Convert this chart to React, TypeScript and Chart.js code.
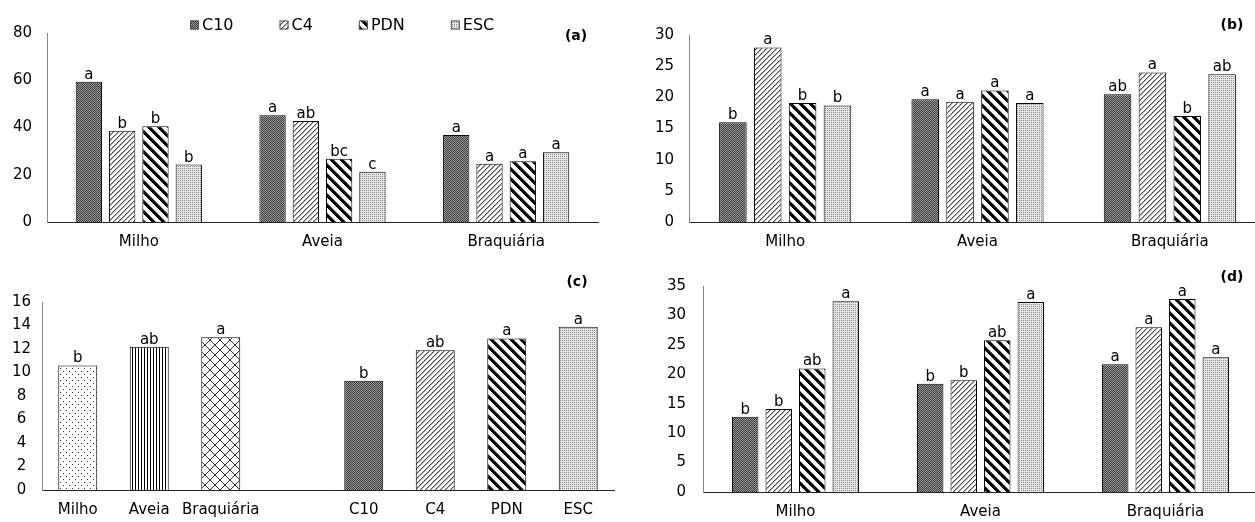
import React, { useEffect, useRef } from 'react';
import { Chart, registerables } from 'chart.js';
Chart.register(...registerables);

// ---------- data ----------
const crops = ['Milho', 'Aveia', 'Braquiária'];
const systems = ['C10', 'C4', 'PDN', 'ESC'];

// panel (a)
const aC10 = [59.4, 45.2, 36.8];
const aC4 = [38.6, 42.7, 24.7];
const aPDN = [40.5, 26.8, 25.7];
const aESC = [24.3, 21.3, 29.5];
const aLetters = [['a', 'a', 'a'], ['b', 'ab', 'a'], ['b', 'bc', 'a'], ['b', 'c', 'a']];
const aTicks = { max: 80, step: 20 };

// panel (b)
const bC10 = [16.0, 19.7, 20.5];
const bC4 = [28.0, 19.3, 24.0];
const bPDN = [19.1, 21.1, 17.0];
const bESC = [18.7, 19.1, 23.7];
const bLetters = [['b', 'a', 'ab'], ['a', 'a', 'a'], ['b', 'a', 'b'], ['b', 'a', 'ab']];
const bTicks = { max: 30, step: 5 };

// panel (c)
const cCats = ['Milho', 'Aveia', 'Braquiária', '', 'C10', 'C4', 'PDN', 'ESC'];
const cValues = [10.6, 12.2, 13.0, null, 9.3, 11.9, 12.9, 13.9];
const cLetters = ['b', 'ab', 'a', '', 'b', 'ab', 'a', 'a'];
const cPatterns = ['dots', 'vlines', 'diamond', 'none', 'C10', 'C4', 'PDN', 'ESC'];
const cTicks = { max: 16, step: 2 };

// panel (d)
const dC10 = [12.8, 18.4, 21.7];
const dC4 = [14.1, 19.0, 28.0];
const dPDN = [21.0, 25.8, 32.8];
const dESC = [32.4, 32.3, 22.9];
const dLetters = [['b', 'b', 'a'], ['b', 'b', 'a'], ['ab', 'ab', 'a'], ['a', 'a', 'a']];
const dTicks = { max: 35, step: 5 };

const FONT = '"DejaVu Sans", sans-serif';

// ---------- patterns ----------
function tile(w: number, h: number, draw: (g: CanvasRenderingContext2D) => void) {
  const c = document.createElement('canvas');
  c.width = w;
  c.height = h;
  const g = c.getContext('2d')!;
  draw(g);
  return g.createPattern(c, 'repeat')!;
}
function px(g: CanvasRenderingContext2D, x: number, y: number, col: string) {
  g.fillStyle = col;
  g.fillRect(x, y, 1, 1);
}
function makePattern(kind: string): any {
  switch (kind) {
    case 'C10':
      return tile(2, 2, (g) => {
        g.fillStyle = '#9a9a9a';
        g.fillRect(0, 0, 2, 2);
        px(g, 0, 0, '#3a3a3a');
        px(g, 1, 1, '#3a3a3a');
      });
    case 'C4':
      return tile(5, 5, (g) => {
        g.fillStyle = '#ffffff';
        g.fillRect(0, 0, 5, 5);
        for (let i = 0; i < 5; i++) {
          px(g, i, 4 - i, '#4a4a4a');
          px(g, (i + 1) % 5, 4 - i, '#b0b0b0');
        }
      });
    case 'PDN':
      return tile(10, 10, (g) => {
        g.fillStyle = '#ffffff';
        g.fillRect(0, 0, 10, 10);
        for (let x = 0; x < 10; x++)
          for (let y = 0; y < 10; y++) {
            const d = (x - y + 20) % 10;
            if (d < 4) px(g, x, y, '#000000');
            else if (d === 4) px(g, x, y, '#808080');
          }
      });
    case 'ESC':
      return tile(2, 2, (g) => {
        g.fillStyle = '#e6e6e6';
        g.fillRect(0, 0, 2, 2);
        px(g, 0, 0, '#8a8a8a');
      });
    case 'dots':
      return tile(6, 6, (g) => {
        g.fillStyle = '#ffffff';
        g.fillRect(0, 0, 6, 6);
        px(g, 0, 0, '#333333');
        px(g, 3, 3, '#333333');
      });
    case 'vlines':
      return tile(3, 1, (g) => {
        g.fillStyle = '#ffffff';
        g.fillRect(0, 0, 3, 1);
        px(g, 0, 0, '#000000');
      });
    case 'diamond':
      return tile(10, 10, (g) => {
        g.fillStyle = '#ffffff';
        g.fillRect(0, 0, 10, 10);
        for (let i = 0; i < 10; i++) {
          px(g, i, i, '#333333');
          px(g, i, 9 - i, '#333333');
        }
      });
    default:
      return '#ffffff';
  }
}

// ---------- plugins ----------
function lettersPlugin(letters: string[][]) {
  return {
    id: 'letters',
    afterDatasetsDraw(chart: any) {
      const ctx = chart.ctx;
      ctx.save();
      ctx.font = `15px ${FONT}`;
      ctx.fillStyle = '#000';
      ctx.textAlign = 'center';
      ctx.textBaseline = 'alphabetic';
      chart.data.datasets.forEach((ds: any, di: number) => {
        const meta = chart.getDatasetMeta(di);
        meta.data.forEach((el: any, i: number) => {
          const t = letters[di] && letters[di][i];
          if (t && ds.data[i] != null) ctx.fillText(t, el.x, el.y - 3);
        });
      });
      ctx.restore();
    },
  };
}
function tagPlugin(text: string, x: number, y: number) {
  return {
    id: 'tag',
    afterDraw(chart: any) {
      const ctx = chart.ctx;
      ctx.save();
      ctx.font = `bold 14px ${FONT}`;
      ctx.fillStyle = '#000';
      ctx.textAlign = 'center';
      ctx.textBaseline = 'middle';
      ctx.fillText(text, x, y);
      ctx.restore();
    },
  };
}
function legendPlugin(startX: number, y: number, gap: number) {
  return {
    id: 'customLegend',
    afterDraw(chart: any) {
      const ctx = chart.ctx;
      ctx.save();
      ctx.font = `16px ${FONT}`;
      ctx.textBaseline = 'middle';
      ctx.textAlign = 'left';
      let x = startX;
      chart.data.datasets.forEach((ds: any) => {
        ctx.fillStyle = ds.backgroundColor;
        ctx.fillRect(x, y - 4.5, 9, 9);
        ctx.strokeStyle = '#555';
        ctx.lineWidth = 1;
        ctx.strokeRect(x + 0.5, y - 4, 8, 8);
        ctx.fillStyle = '#000';
        ctx.fillText(ds.label, x + 12, y + 1);
        x += 12 + ctx.measureText(ds.label).width + gap;
      });
      ctx.restore();
    },
  };
}

// ---------- chart builder ----------
type Box = { yW: number; xH: number; padR: number; padT: number; tickPad: number; crossAlign?: string };

function baseOptions(box: Box, ticks: { max: number; step: number }, catPct: number, barPct: number): any {
  return {
    responsive: false,
    animation: false,
    devicePixelRatio: 1,
    layout: { padding: { left: 0, right: box.padR, top: box.padT, bottom: 0 } },
    plugins: { legend: { display: false }, tooltip: { enabled: false } },
    datasets: { bar: { categoryPercentage: catPct, barPercentage: barPct } },
    scales: {
      x: {
        grid: { display: false, drawTicks: false },
        border: { display: true, color: '#262626', width: 1 },
        ticks: { font: { family: FONT, size: 15 }, color: '#000', padding: 11, maxRotation: 0, autoSkip: false },
        afterFit: (s: any) => {
          s.height = box.xH;
        },
      },
      y: {
        min: 0,
        max: ticks.max,
        grid: { display: false, drawTicks: false },
        border: { display: true, color: '#868686', width: 1 },
        ticks: {
          stepSize: ticks.step,
          font: { family: FONT, size: 15 },
          color: '#000',
          padding: box.tickPad,
          crossAlign: box.crossAlign || 'near',
        },
        afterFit: (s: any) => {
          s.width = box.yW;
        },
      },
    },
  };
}

function groupedConfig(series: number[][], letters: string[][], box: Box, ticks: any, extra: any[]): any {
  return {
    type: 'bar',
    data: {
      labels: crops,
      datasets: systems.map((s, i) => ({
        label: s,
        data: series[i],
        backgroundColor: makePattern(s),
        borderColor: '#000',
        borderWidth: 1,
      })),
    },
    options: baseOptions(box, ticks, 0.725, 0.79),
    plugins: [lettersPlugin(letters), ...extra],
  };
}

function ChartCanvas(props: { left: number; top: number; width: number; height: number; build: () => any }) {
  const ref = useRef<HTMLCanvasElement>(null);
  useEffect(() => {
    const chart = new Chart(ref.current!, props.build());
    return () => chart.destroy();
  }, []);
  return (
    <canvas
      ref={ref}
      width={props.width}
      height={props.height}
      style={{ position: 'absolute', left: props.left, top: props.top, width: props.width, height: props.height }}
    />
  );
}

export default function App() {
  return (
    <div
      style={{
        position: 'absolute',
        left: 0,
        top: 0,
        width: 1255,
        height: 522,
        overflow: 'hidden',
        background: '#fff',
      }}
    >
      <ChartCanvas
        left={0}
        top={0}
        width={615}
        height={260}
        build={() =>
          groupedConfig(
            [aC10, aC4, aPDN, aESC],
            aLetters,
            { yW: 47, xH: 38, padR: 17, padT: 33, tickPad: 15 },
            aTicks,
            [legendPlugin(190, 25, 46), tagPlugin('(a)', 576, 36)]
          )
        }
      />
      <ChartCanvas
        left={615}
        top={0}
        width={660}
        height={260}
        build={() =>
          groupedConfig(
            [bC10, bC4, bPDN, bESC],
            bLetters,
            { yW: 74, xH: 38, padR: 9, padT: 35, tickPad: 15 },
            bTicks,
            [tagPlugin('(b)', 617, 25)]
          )
        }
      />
      <ChartCanvas
        left={0}
        top={260}
        width={615}
        height={262}
        build={() => ({
          type: 'bar',
          data: {
            labels: cCats,
            datasets: [
              {
                label: 'c',
                data: cValues,
                backgroundColor: cPatterns.map((p) => makePattern(p)),
                borderColor: '#000',
                borderWidth: 1,
              },
            ],
          },
          options: baseOptions(
            { yW: 42, xH: 32, padR: 1, padT: 42, tickPad: 11, crossAlign: 'center' },
            cTicks,
            1,
            0.545
          ),
          plugins: [lettersPlugin([cLetters]), tagPlugin('(c)', 577, 22)],
        })}
      />
      <ChartCanvas
        left={615}
        top={260}
        width={660}
        height={262}
        build={() =>
          groupedConfig(
            [dC10, dC4, dPDN, dESC],
            dLetters,
            { yW: 88, xH: 30, padR: 17, padT: 25, tickPad: 17 },
            dTicks,
            [tagPlugin('(d)', 617, 17)]
          )
        }
      />
    </div>
  );
}
